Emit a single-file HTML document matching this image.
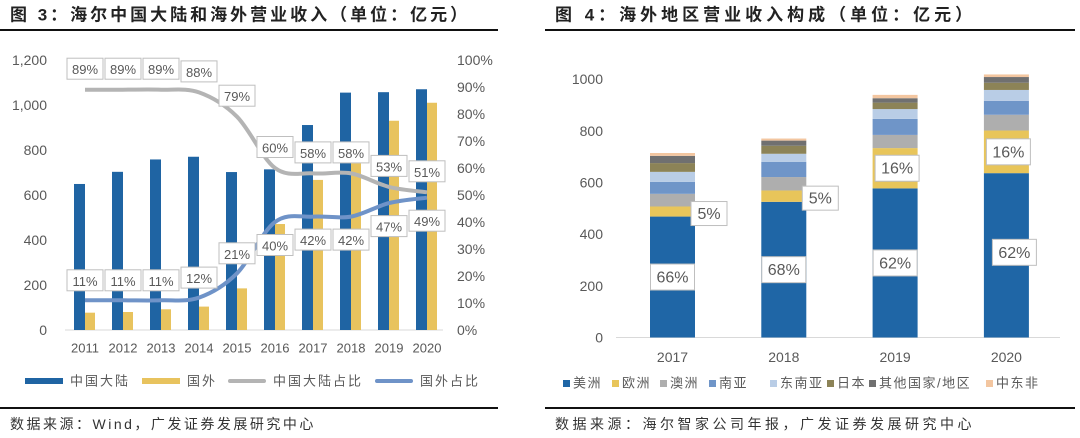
<!DOCTYPE html>
<html><head><meta charset="utf-8"><style>
body{margin:0;width:1080px;height:438px;background:#fff;overflow:hidden;font-family:"Liberation Sans","Noto Sans CJK SC",sans-serif;}
svg{position:absolute;left:0;top:0}
</style></head><body>
<svg id="c" width="1080" height="438"></svg>
<script>
const years1=['2011','2012','2013','2014','2015','2016','2017','2018','2019','2020'];
const mainland=[649,703,758,770,702,714,911,1055,1057,1070];
const overseas=[77,80,92,104,185,471,667,741,930,1010];
const mainPct=[89,89,89,88,79,60,58,58,53,51];
const overPct=[11,11,11,12,21,40,42,42,47,49];
const leftTicks=['0','200','400','600','800','1,000','1,200'];
const pctTicks=['0%','10%','20%','30%','40%','50%','60%','70%','80%','90%','100%'];

const years2=['2017','2018','2019','2020'];
const regions=['美洲','欧洲','澳洲','南亚','东南亚','日本','其他国家/地区','中东非'];
const america=[468,525,577,636];
const europe=[39,44,156,165];
const australia=[49,52,51,61];
const southAsia=[46,59,62,54];
const seAsia=[39,31,38,42];
const japan=[34,31,25,28];
const others=[28,20,17,22];
const meAfrica=[11,8,13,10];
const americaPctLabel=['66%','68%','62%','62%'];
const europePctLabel=['5%','5%','16%','16%'];
const rightTicks=['0','200','400','600','800','1000'];

const S=document.getElementById('c');const NS='http://www.w3.org/2000/svg';
function mk(t,a,p){const e=document.createElementNS(NS,t);for(const k in a)e.setAttribute(k,a[k]);(p||S).appendChild(e);return e;}
function tx(x,y,s,a){const e=mk('text',Object.assign({x:x,y:y,'font-size':13,fill:'#595959','dominant-baseline':'central'},a||{}));e.textContent=s;return e;}

let t=tx(10,15,'图 3：海尔中国大陆和海外营业收入（单位：亿元）',{'font-size':17,'font-weight':'bold',fill:'#222','letter-spacing':3});


t=tx(555,15,'图 4：海外地区营业收入构成（单位：亿元）',{'font-size':17,'font-weight':'bold',fill:'#222','letter-spacing':4});


[[0,498],[545,1075]].forEach(r=>{mk('rect',{x:r[0],y:29,width:r[1]-r[0],height:2,fill:'#111'});mk('rect',{x:r[0],y:407,width:r[1]-r[0],height:2,fill:'#111'});});
t=tx(10,424,'数据来源：Wind，广发证券发展研究中心',{'font-size':14,fill:'#333','letter-spacing':2.5});


t=tx(555,424,'数据来源：海尔智家公司年报，广发证券发展研究中心',{'font-size':14,fill:'#333','letter-spacing':3.5});



const L={x0:65,x1:443,y0:330,h:270,g0:85,gs:38};
const yL=v=>L.y0-v/1200*L.h;
const yP=v=>L.y0-v/100*L.h;
const xG=i=>L.g0+i*L.gs;
mk('line',{x1:L.x0,x2:L.x1,y1:L.y0,y2:L.y0,stroke:'#d9d9d9'});
leftTicks.forEach((s,i)=>{const e=tx(47,yL(i*200),s,{'text-anchor':'end','font-size':14});});
pctTicks.forEach((s,i)=>{const e=tx(457,yP(i*10),s,{'font-size':14});});
years1.forEach((s,i)=>{const e=tx(xG(i),348,s,{'text-anchor':'middle'});});
mainland.forEach((v,i)=>{const r=mk('rect',{x:xG(i)-11,y:yL(v),width:11,height:L.y0-yL(v),fill:'#1f64a3'});});
overseas.forEach((v,i)=>{const r=mk('rect',{x:xG(i),y:yL(v),width:10,height:L.y0-yL(v),fill:'#e8c35e'});});
function smooth(pts){let d='M'+pts[0][0]+','+pts[0][1];for(let i=0;i<pts.length-1;i++){const p0=pts[i-1]||pts[i],p1=pts[i],p2=pts[i+1],p3=pts[i+2]||p2;const c1=[p1[0]+(p2[0]-p0[0])/6,p1[1]+(p2[1]-p0[1])/6],c2=[p2[0]-(p3[0]-p1[0])/6,p2[1]-(p3[1]-p1[1])/6];d+=' C'+c1+' '+c2+' '+p2;}return d;}
let ln=mk('path',{d:smooth(mainPct.map((v,i)=>[xG(i),yP(v)])),fill:'none',stroke:'#b4b4b4','stroke-width':4});

ln=mk('path',{d:smooth(overPct.map((v,i)=>[xG(i),yP(v)])),fill:'none',stroke:'#6f93c8','stroke-width':4});

function box(cx,cy,s,w,h,fs){mk('rect',{x:cx-w/2,y:cy-h/2,width:w,height:h,fill:'#fff',stroke:'#bfbfbf'});return tx(cx,cy+1,s,{'text-anchor':'middle','font-size':fs||13});}
mainPct.forEach((v,i)=>{const e=box(xG(i),yP(v)-21,v+'%',36,21);});
overPct.forEach((v,i)=>{const e=box(xG(i),yP(v)+(i<5?-20:23),v+'%',36,21);});
[['中国大陆','#1f64a3',6,25],['国外','#e8c35e',6,142],['中国大陆占比','#b4b4b4',4,228],['国外占比','#6f93c8',4,375]].forEach(l=>{
 const g=mk('g',{});
 mk('rect',{x:l[3],y:381-l[2]/2,width:38,height:l[2],fill:l[1],rx:l[2]==4?2:0},g);
 const e=tx(l[3]+45,381,l[0],{'font-size':13,'letter-spacing':2});g.appendChild(e);});

const R={y0:337.5,g0:672.5,gs:111.3,bw:45};
const yR=v=>R.y0-v*0.2584;
const xR=i=>R.g0+i*R.gs;
mk('line',{x1:616,x2:1060,y1:R.y0,y2:R.y0,stroke:'#d9d9d9'});
rightTicks.forEach((s,i)=>{const e=tx(603,yR(i*200),s,{'text-anchor':'end','font-size':14});});
years2.forEach((s,i)=>{const e=tx(xR(i),357,s,{'text-anchor':'middle','font-size':14});});
const series=[america,europe,australia,southAsia,seAsia,japan,others,meAfrica];
const colors=['#1f66a6','#e8c55a','#aeaeae','#6f95c8','#b9cde6','#8c8357','#707070','#f3c6a0'];
years2.forEach((y,i)=>{let acc=0;series.forEach((s,k)=>{const r=mk('rect',{x:xR(i)-R.bw/2,y:yR(acc+s[i]),width:R.bw,height:s[i]*0.2584,fill:colors[k]});acc+=s[i];});});
americaPctLabel.forEach((s,i)=>{const e=box(xR(i)+(i==3?8:0),yR(america[i]*0.5)+(i==3?-3:0),s,44,26,16);});
europePctLabel.forEach((s,i)=>{const big=europe[i]>100;const cx=big?xR(i)+2:xR(i)+R.bw/2+14;const cy=big?yR(america[i]+europe[i]*0.5):yR(america[i]+europe[i]*0.5)+2;const e=box(cx,cy,s,big?44:36,big?26:24,16);});
const lx=[563,612,660,709,770,827,869,986];
regions.forEach((r,k)=>{const g=mk('g',{});
 mk('rect',{x:lx[k],y:380,width:7,height:7,fill:colors[k]},g);
 const e=tx(lx[k]+10,383,r,{'font-size':13,'letter-spacing':1.5});g.appendChild(e);});
</script>
</body></html>
